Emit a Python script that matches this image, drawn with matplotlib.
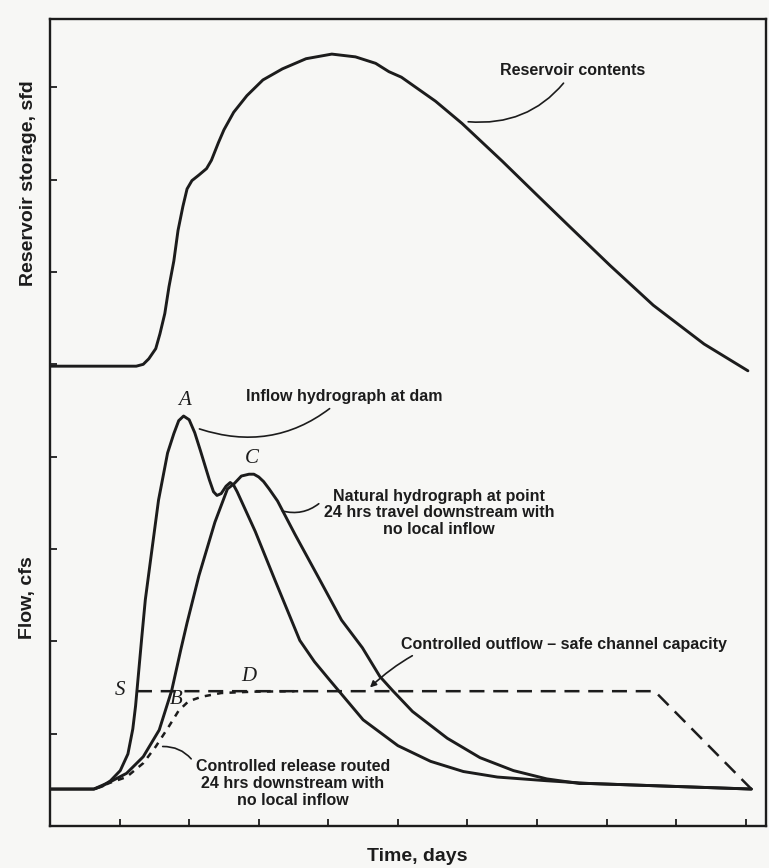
"""
Reservoir operation for flood control: storage and flow hydrographs.
Values read off the scanned figure (days on x, arbitrary tick units on y).
"""
import matplotlib
matplotlib.use("Agg")
import matplotlib.pyplot as plt

# reservoir contents (upper curve)
storage_days = [0.0, 1.24, 1.34, 1.42, 1.52, 1.58, 1.65, 1.71, 1.78, 1.84, 1.91,
                1.97, 2.04, 2.14, 2.25, 2.32, 2.42, 2.50, 2.64, 2.83, 3.06, 3.34,
                3.68, 4.05, 4.39, 4.68, 4.87, 5.05, 5.54, 5.92, 6.50, 6.99, 7.47,
                8.05, 8.67, 9.40, 10.03]
storage = [4.98, 4.98, 5.00, 5.06, 5.17, 5.33, 5.55, 5.84, 6.12, 6.45, 6.71,
           6.90, 6.99, 7.05, 7.12, 7.21, 7.40, 7.54, 7.73, 7.91, 8.08, 8.20,
           8.31, 8.36, 8.33, 8.26, 8.17, 8.11, 7.85, 7.61, 7.20, 6.84, 6.49,
           6.07, 5.64, 5.22, 4.93]

# inflow hydrograph at dam
inflow_days = [0.0, 0.63, 0.75, 0.87, 1.01, 1.12, 1.19, 1.23, 1.26, 1.29, 1.32,
               1.37, 1.44, 1.56, 1.69, 1.78, 1.85, 1.92, 2.00, 2.08, 2.16, 2.29,
               2.35, 2.40, 2.46, 2.53, 2.59, 2.64, 2.69, 2.95, 3.24, 3.59, 3.80,
               4.02, 4.50, 5.00, 5.47, 5.94, 6.43, 7.14, 7.76, 10.08]
inflow = [0.40, 0.40, 0.43, 0.49, 0.60, 0.78, 1.05, 1.30, 1.55, 1.80, 2.05,
          2.45, 2.85, 3.53, 4.04, 4.25, 4.39, 4.44, 4.40, 4.26, 4.07, 3.75,
          3.62, 3.58, 3.60, 3.68, 3.72, 3.69, 3.62, 3.19, 2.65, 2.01, 1.78,
          1.58, 1.15, 0.87, 0.70, 0.59, 0.53, 0.49, 0.46, 0.40]

# natural hydrograph 24 hrs downstream
natural_days = [0.0, 0.63, 0.87, 1.10, 1.34, 1.57, 1.75, 1.88, 1.97, 2.14, 2.37,
                2.55, 2.65, 2.75, 2.86, 2.93, 3.00, 3.07, 3.15, 3.27, 3.52, 3.86,
                4.19, 4.49, 4.74, 4.92, 5.21, 5.71, 6.18, 6.66, 7.14, 7.61, 7.76,
                10.08]
natural = [0.40, 0.40, 0.48, 0.57, 0.75, 1.04, 1.47, 1.91, 2.20, 2.71, 3.29,
           3.65, 3.71, 3.79, 3.81, 3.81, 3.78, 3.73, 3.65, 3.52, 3.16, 2.69,
           2.23, 1.93, 1.62, 1.47, 1.24, 0.95, 0.74, 0.60, 0.51, 0.46, 0.46,
           0.40]

# controlled release routed 24 hrs downstream
routed_days = [0.64, 0.87, 1.10, 1.34, 1.52, 1.71, 1.85, 1.99, 2.18, 2.46, 2.93, 3.60]
routed = [0.40, 0.47, 0.53, 0.68, 0.86, 1.08, 1.25, 1.35, 1.40, 1.44, 1.455, 1.46]

# controlled outflow = safe channel capacity
outflow_days = [1.25, 8.69, 10.08]
outflow = [1.46, 1.46, 0.40]

x_ticks = list(range(1, 11))
y_ticks = list(range(1, 9))

INK = "#1c1c1c"
PAPER = "#f7f7f5"
SANS = "Liberation Sans"
SERIF = "Liberation Serif"

fig = plt.figure(figsize=(7.69, 8.68), dpi=100, facecolor=PAPER)
ax = fig.add_axes([0.0650, 0.0484, 0.9311, 0.9297], facecolor=PAPER)

solid = dict(color=INK, lw=2.1, solid_joinstyle="round", solid_capstyle="round")
ax.plot(storage_days, storage, **solid)
ax.plot(natural_days, natural, **solid)
ax.plot(inflow_days, inflow, **solid)
ax.plot(outflow_days, outflow, color=INK, lw=1.8, dashes=(6, 3.5))
ax.plot(routed_days, routed, color=INK, lw=1.8, dashes=(2.5, 2.5))

ax.set_xlim(0, 10.29)
ax.set_ylim(0, 8.74)
ax.set_xticks(x_ticks)
ax.set_yticks(y_ticks)
ax.tick_params(direction="in", length=5, width=1.3, color=INK,
               labelbottom=False, labelleft=False)
for sp in ax.spines.values():
    sp.set_linewidth(1.7)
    sp.set_color(INK)

# point letters
letter = dict(family=SERIF, style="italic", fontsize=15, color=INK,
              ha="center", va="center")
ax.text(1.94, 4.61, "A", **letter)
ax.text(2.90, 3.98, "C", **letter)
ax.text(1.00, 1.47, "S", **letter)
ax.text(1.82, 1.37, "B", **letter)
ax.text(2.85, 1.62, "D", **letter)

# annotations
note = dict(family=SANS, fontsize=11.5, fontweight="bold", color=INK)
lead = dict(arrowstyle="-", lw=1.2, color=INK, connectionstyle="arc3,rad=-0.3")
ax.annotate("Reservoir contents", xy=(5.97, 7.63), xytext=(6.47, 8.18),
            ha="left", va="center", arrowprops=lead, **note)
ax.annotate("Inflow hydrograph at dam", xy=(2.11, 4.31), xytext=(2.81, 4.65),
            ha="left", va="center", arrowprops=lead, **note)
ax.annotate("Natural hydrograph at point\n24 hrs travel downstream with\nno local inflow",
            xy=(3.30, 3.42), xytext=(5.59, 3.39), ha="center", va="center",
            multialignment="center", linespacing=1.15,
            arrowprops=dict(lead, relpos=(0.0, 0.78)), **note)
ax.annotate("Controlled outflow \u2013 safe channel capacity", xy=(4.57, 1.48),
            xytext=(5.04, 1.97), ha="left", va="center",
            arrowprops=dict(arrowstyle="-|>", lw=1.2, color=INK,
                            mutation_scale=9, connectionstyle="arc3,rad=0.3"),
            **note)
ax.annotate("Controlled release routed\n24 hrs downstream with\nno local inflow",
            xy=(1.58, 0.86), xytext=(3.49, 0.46), ha="center", va="center",
            multialignment="center", linespacing=1.15,
            arrowprops=dict(lead, relpos=(0.0, 0.88), connectionstyle="arc3,rad=0.3"),
            **note)

label = dict(family=SANS, fontsize=14, fontweight="bold", color=INK,
             ha="center", va="center")
fig.text(0.0377, 0.789, "Reservoir storage, sfd", rotation=90, **label)
fig.text(0.0364, 0.311, "Flow, cfs", rotation=90, **label)
fig.text(0.542, 0.0127, "Time, days", **label)

fig.savefig("out.png", dpi=100, facecolor=PAPER)
